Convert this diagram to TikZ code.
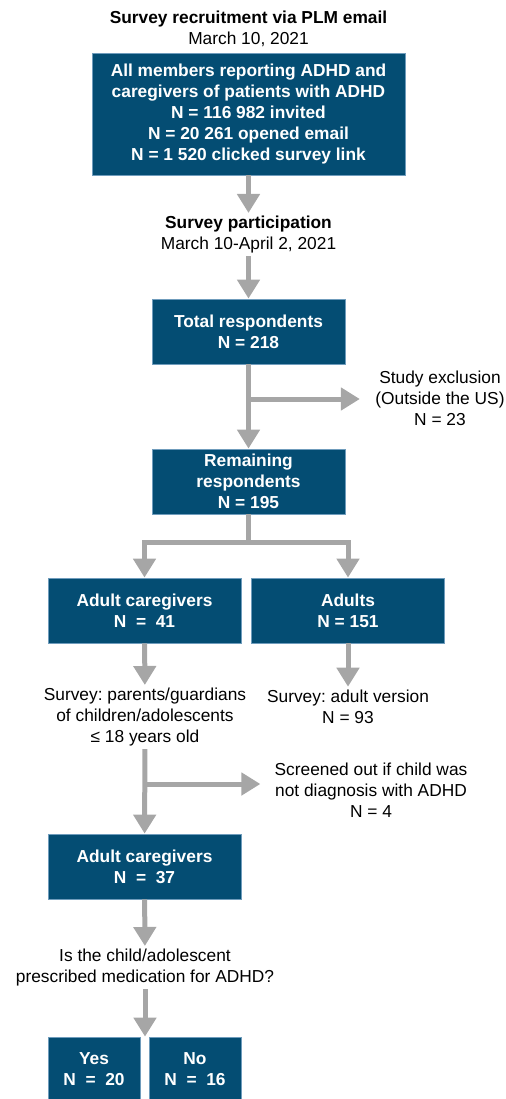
\documentclass[tikz,border=0pt]{standalone}
\usepackage{fontspec}
\setmainfont{Liberation Sans}
\usetikzlibrary{arrows.meta, positioning, calc}
\frenchspacing

\definecolor{boxblue}{HTML}{044D73}
\definecolor{boxedge}{HTML}{6F9CBC}
\definecolor{flowgray}{HTML}{A6A6A6}

\begin{document}
\begin{tikzpicture}[
    x=0.75pt, y=-0.75pt,
    stage/.style={rectangle, draw=boxedge, line width=0.6pt, fill=boxblue, text=white, align=center,
        font=\fontsize{13}{15.75}\selectfont\bfseries, minimum width=144.75pt, minimum height=48.75pt, inner sep=0pt},
    note/.style={align=center, inner sep=2pt, font=\fontsize{13}{15.75}\selectfont},
    flow/.style={-{Triangle[width=16.5pt, length=14.25pt]}, line width=3.75pt, draw=flowgray},
    trunk/.style={line width=3.75pt, draw=flowgray},
]
\clip (0,0) rectangle (506,1099);

% Recruitment
\node[note] (recruit) at (248.5, 28.5) {\textbf{Survey recruitment via PLM email}\\March 10, 2021};
\node[stage, minimum width=234.75pt, minimum height=91.5pt] (invite) at (248.5, 114)
    {All members reporting ADHD and\\caregivers of patients with ADHD\\N = 116 982 invited\\N = 20 261 opened email\\N = 1 520 clicked survey link};

% Participation
\node[note] (partic) at (248.5, 234.5) {\textbf{Survey participation}\\March 10-April 2, 2021};
\node[stage] (total) at (248.5, 331.5) {Total respondents\\N = 218};
\node[note] (exclude) at (440, 398) {Study exclusion\\(Outside the US)\\N = 23};
\node[stage] (remain) at (248.5, 481.5) {Remaining\\respondents\\N = 195};

% Groups
\node[stage] (carers) at (144.5, 610.5) {Adult caregivers\\N\ \ =\ \ 41};
\node[stage] (adults) at (348, 610.5) {Adults\\N = 151};
\node[note] (parentsurvey) at (145, 717) {Survey: parents/guardians\\of children/adolescents\\≤ 18 years old};
\node[note] (adultsurvey) at (348, 706.5) {Survey: adult version\\N = 93};
\node[note] (screen) at (371, 790) {Screened out if child was\\not diagnosis with ADHD\\N = 4};
\node[stage] (carers37) at (144.5, 866.5) {Adult caregivers\\N\ \ =\ \ 37};
\node[note] (medq) at (145, 967.5) {Is the child/adolescent\\prescribed medication for ADHD?};

% Medication
\node[stage, minimum width=69pt] (yes) at (94, 1069.5) {Yes\\N\ \ =\ \ 20};
\node[stage, minimum width=69pt] (no) at (195, 1069.5) {No\\N\ \ =\ \ 16};

% Forks
\coordinate (exclfork) at (248.5, 399);
\coordinate (split) at (248.5, 542);
\coordinate (screenfork) at (145, 784);

% Connections
\draw[flow] (invite) -- (partic);
\draw[flow] (partic) -- (total);
\draw[flow] (total) -- (remain);
\draw[flow, shorten >=9.5pt] (exclfork) -- (exclfork -| exclude.west);
\draw[trunk] (remain) -- (split);
\draw[flow] (split) -| (carers);
\draw[flow] (split) -| (adults);
\draw[flow] (carers) -- (parentsurvey);
\draw[flow] (adults) -- (adultsurvey);
\draw[flow] (parentsurvey) -- (carers37);
\draw[flow, shorten >=8.5pt] (screenfork) -- (screenfork -| screen.west);
\draw[flow] (carers37) -- (medq);
\draw[flow] (medq) -- (medq |- yes.north);

\end{tikzpicture}
\end{document}
